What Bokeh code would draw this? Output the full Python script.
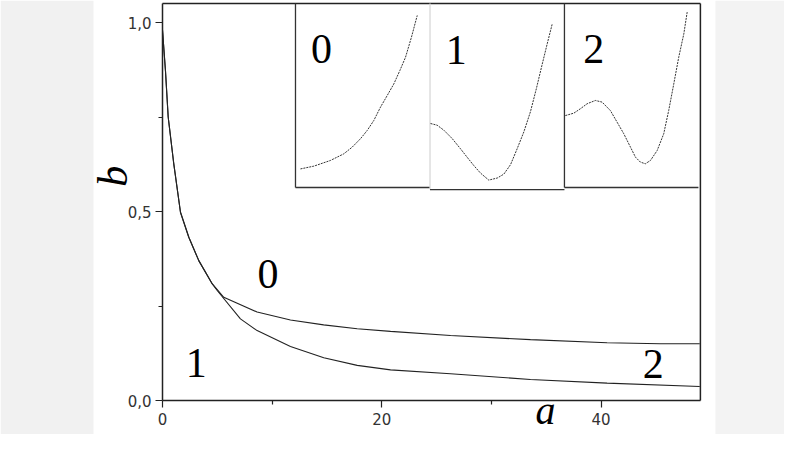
from bokeh.plotting import figure
from bokeh.models import Range1d, FixedTicker, Label, BoxAnnotation
from bokeh.core.properties import value
from bokeh.embed import file_html
from bokeh.resources import INLINE

# ---- main curves (a, b) ----
a_upper = [0, 0.27, 0.52, 1.03, 1.64, 2.40, 3.31, 4.53, 5.59, 8.63, 11.67,
           14.7, 17.76, 20.8, 26.27, 33.56, 40.55, 45.4, 49.0]
b_upper = [0.98, 0.873, 0.75, 0.626, 0.498, 0.432, 0.370, 0.309, 0.273, 0.234,
           0.213, 0.200, 0.190, 0.183, 0.172, 0.161, 0.153, 0.150, 0.150]

a_lower = [0, 0.27, 0.52, 1.03, 1.64, 2.40, 3.31, 4.53, 4.99, 7.11, 8.63,
           11.67, 14.71, 17.76, 20.8, 26.27, 33.56, 40.55, 49.0]
b_lower = [0.98, 0.873, 0.75, 0.626, 0.498, 0.432, 0.370, 0.309, 0.291, 0.216,
           0.185, 0.143, 0.113, 0.093, 0.081, 0.071, 0.0556, 0.046, 0.037]

# ---- ticks ----
x_ticks = [0, 20, 40]
x_minor = [10, 30]
x_tick_labels = ["0", "20", "40"]
y_ticks = [0.0, 0.5, 1.0]
y_minor = [0.25, 0.75]
y_tick_labels = ["0,0", "0,5", "1,0"]

# ---- region labels ----
region_text = ["0", "1", "2"]
region_a = [9.62, 3.07, 44.75]
region_b = [0.335, 0.098, 0.097]

# ---- inset curves (normalised inset coordinates) ----
inset0_u = [0.037, 0.136, 0.260, 0.359, 0.421, 0.483, 0.533, 0.582, 0.632,
            0.682, 0.731, 0.776, 0.818, 0.862, 0.905]
inset0_v = [0.101, 0.116, 0.147, 0.183, 0.219, 0.265, 0.310, 0.364, 0.437,
            0.500, 0.563, 0.636, 0.708, 0.817, 0.935]

inset1_u = [0.004, 0.053, 0.103, 0.165, 0.227, 0.276, 0.326, 0.375, 0.437, 0.500,
            0.549, 0.599, 0.648, 0.698, 0.747, 0.792, 0.834, 0.871, 0.909]
inset1_v = [0.355, 0.346, 0.319, 0.274, 0.219, 0.174, 0.129, 0.089, 0.051, 0.062,
            0.083, 0.134, 0.219, 0.310, 0.418, 0.545, 0.672, 0.781, 0.890]

inset2_u = [0.007, 0.070, 0.119, 0.169, 0.231, 0.281, 0.343, 0.393, 0.443, 0.493,
            0.530, 0.567, 0.604, 0.642, 0.692, 0.741, 0.778, 0.816, 0.853, 0.891, 0.916]
inset2_v = [0.391, 0.404, 0.428, 0.455, 0.473, 0.464, 0.418, 0.355, 0.292, 0.219,
            0.165, 0.138, 0.129, 0.147, 0.201, 0.292, 0.418, 0.563, 0.708, 0.835, 0.953]

inset_names = ["0", "1", "2"]
inset_label_u = [0.193, 0.196, 0.219]
inset_label_v = [0.755, 0.75, 0.75]

# ---- layout constants (main-axis units) ----
A_MAX = 49.06          # right edge of the plot box
B_MAX = 1.0503         # top edge of the plot box
inset_left = [12.13, 24.40, 36.66]
inset_right = [24.40, 36.66, 48.88]
inset_bottom = [0.5635, 0.558, 0.5635]
inset_left_edge_color = ["#333333", "#d8d8d8", "#333333"]

INK = "#222222"
SERIF = "Liberation Serif"

p = figure(width=784, height=434, output_backend="svg", toolbar_location=None,
           x_range=Range1d(-14.774, 56.73), y_range=Range1d(-0.0899, 1.0582),
           min_border_left=0, min_border_right=0, min_border_top=0,
           min_border_bottom=0, background_fill_color="white",
           border_fill_color="white")
p.xgrid.visible = False
p.ygrid.visible = False
p.outline_line_color = None

# light page background on the sides, as in the reference scan
p.add_layout(BoxAnnotation(right=-6.29, fill_color="#f1f1f1", fill_alpha=1,
                           line_color=None, level="underlay"))
p.add_layout(BoxAnnotation(left=50.43, fill_color="#f3f3f3", fill_alpha=1,
                           line_color=None, level="underlay"))

for ax, ticks, minor, labels in ((p.xaxis[0], x_ticks, x_minor, x_tick_labels),
                                 (p.yaxis[0], y_ticks, y_minor, y_tick_labels)):
    ax.ticker = FixedTicker(ticks=ticks, minor_ticks=minor)
    ax.major_label_overrides = {t: l for t, l in zip(ticks, labels)}
    ax.axis_line_color = INK
    ax.axis_line_width = 1.5
    ax.major_tick_line_color = INK
    ax.minor_tick_line_color = INK
    ax.major_tick_line_width = 1.2
    ax.minor_tick_line_width = 1.2
    ax.major_tick_in = 0
    ax.major_tick_out = 7
    ax.minor_tick_in = 0
    ax.minor_tick_out = 4
    ax.major_label_text_font = "DejaVu Sans"
    ax.major_label_text_font_size = "15px"
    ax.major_label_text_color = "#333333"
p.xaxis.fixed_location = 0
p.yaxis.fixed_location = 0
p.xaxis.bounds = (0, A_MAX)
p.yaxis.bounds = (0, B_MAX)
p.xaxis.major_label_standoff = 5
p.yaxis.major_label_standoff = 4

# top and right edges of the plot box
p.segment(x0=[0, A_MAX], y0=[B_MAX, 0], x1=[A_MAX, A_MAX], y1=[B_MAX, B_MAX],
          line_color=INK, line_width=1.5)

# main curves
p.line(a_upper, b_upper, line_color=INK, line_width=1.1)
p.line(a_lower, b_lower, line_color=INK, line_width=1.1)

# region labels
p.text(x=region_a, y=region_b, text=region_text, text_font=value(SERIF),
       text_font_size="42px", text_align="center", text_baseline="middle",
       text_color="black")

# axis labels
p.text(x=[34.93], y=[-0.0860], text=["a"], text_font=value(SERIF),
       text_font_style="italic", text_font_size="40px", text_align="center",
       text_baseline="bottom", text_color="black")
p.add_layout(Label(x=-4.47, y=0.593, text="b", text_font=SERIF, angle=1.5708,
                   text_font_style="italic", text_font_size="42px",
                   text_align="center", text_baseline="middle", text_color="black"))

# insets
inset_curves = [(inset0_u, inset0_v), (inset1_u, inset1_v), (inset2_u, inset2_v)]
for i in range(3):
    sub = p.subplot(x_source=Range1d(0, 1), y_source=Range1d(0, 1),
                    x_target=Range1d(inset_left[i], inset_right[i]),
                    y_target=Range1d(inset_bottom[i], B_MAX))
    sub.segment(x0=[0], y0=[0], x1=[0], y1=[1], line_color=inset_left_edge_color[i],
                line_width=1.3)
    sub.segment(x0=[0], y0=[0], x1=[1], y1=[0], line_color="#333333", line_width=1.3)
    u, v = inset_curves[i]
    sub.line(u, v, line_color="#333333", line_width=1, line_dash="2 1")
    sub.text(x=[inset_label_u[i]], y=[inset_label_v[i]], text=[inset_names[i]],
             text_font=value(SERIF), text_font_size="42px", text_align="center",
             text_baseline="middle", text_color="black")

open("out.html", "w").write(file_html(p, INLINE))
